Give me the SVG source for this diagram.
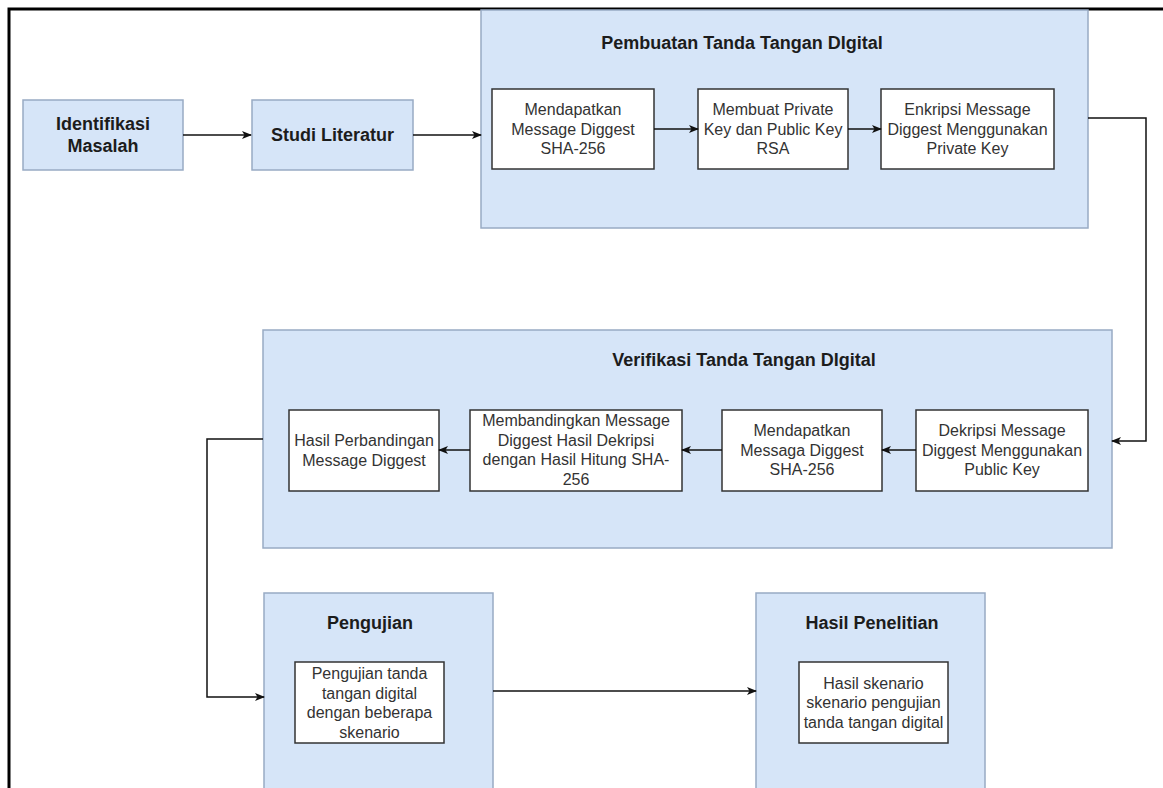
<svg xmlns="http://www.w3.org/2000/svg" width="1163" height="788" viewBox="0 0 1163 788">
<defs>
<marker id="arr" viewBox="0 0 10 8" refX="9" refY="4" markerWidth="10" markerHeight="8" markerUnits="userSpaceOnUse" orient="auto">
<path d="M0,0 L10,4 L0,8 L2.5,4 z" fill="#111"/>
</marker>
<style>
.frame{stroke:#000;stroke-width:3;fill:none}
.blue{fill:#d6e5f8;stroke:#98aac4;stroke-width:1.5}
.white{fill:#fff;stroke:#333;stroke-width:1.5}
.bold{font-family:"Liberation Sans",Arial,sans-serif;font-weight:bold;font-size:18px;fill:#1c1c1c;text-anchor:middle}
.reg{font-family:"Liberation Sans",Arial,sans-serif;font-size:16px;fill:#333;text-anchor:middle}
.conn{fill:none;stroke:#111;stroke-width:1.5;marker-end:url(#arr)}
</style>
</defs>
<rect width="1163" height="788" fill="#fff"/>
<path class="frame" d="M9,788 L9,9 L1163,9"/>

<g id="identifikasi">
<rect class="blue" x="23" y="100" width="160" height="70"/>
<text class="bold" x="103" y="130">Identifikasi</text>
<text class="bold" x="103" y="152">Masalah</text>
</g>
<g id="studi">
<rect class="blue" x="252" y="100" width="161" height="70"/>
<text class="bold" x="332.5" y="141">Studi Literatur</text>
</g>

<g id="pembuatan">
<rect class="blue" x="481" y="10" width="607" height="218"/>
<text class="bold" x="742" y="49">Pembuatan Tanda Tangan DIgital</text>
</g>
<g id="p1">
<rect class="white" x="492" y="89" width="162" height="80"/>
<text class="reg" x="573" y="115">Mendapatkan</text>
<text class="reg" x="573" y="134.5">Message Diggest</text>
<text class="reg" x="573" y="154">SHA-256</text>
</g>
<g id="p2">
<rect class="white" x="698" y="89" width="150" height="80"/>
<text class="reg" x="773" y="115">Membuat Private</text>
<text class="reg" x="773" y="134.5">Key dan Public Key</text>
<text class="reg" x="773" y="154">RSA</text>
</g>
<g id="p3">
<rect class="white" x="881" y="89" width="173" height="80"/>
<text class="reg" x="967.5" y="115">Enkripsi Message</text>
<text class="reg" x="967.5" y="134.5">Diggest Menggunakan</text>
<text class="reg" x="967.5" y="154">Private Key</text>
</g>

<g id="verifikasi">
<rect class="blue" x="263" y="330" width="849" height="218"/>
<text class="bold" x="744" y="366">Verifikasi Tanda Tangan DIgital</text>
</g>
<g id="v1">
<rect class="white" x="916" y="410" width="172" height="81"/>
<text class="reg" x="1002" y="436">Dekripsi Message</text>
<text class="reg" x="1002" y="455.5">Diggest Menggunakan</text>
<text class="reg" x="1002" y="475">Public Key</text>
</g>
<g id="v2">
<rect class="white" x="722" y="410" width="160" height="81"/>
<text class="reg" x="802" y="436">Mendapatkan</text>
<text class="reg" x="802" y="455.5">Messaga Diggest</text>
<text class="reg" x="802" y="475">SHA-256</text>
</g>
<g id="v3">
<rect class="white" x="470" y="410" width="212" height="81"/>
<text class="reg" x="576" y="426">Membandingkan Message</text>
<text class="reg" x="576" y="445.5">Diggest Hasil Dekripsi</text>
<text class="reg" x="576" y="465">dengan Hasil Hitung SHA-</text>
<text class="reg" x="576" y="484.5">256</text>
</g>
<g id="v4">
<rect class="white" x="289" y="410" width="150" height="81"/>
<text class="reg" x="364" y="446">Hasil Perbandingan</text>
<text class="reg" x="364" y="465.5">Message Diggest</text>
</g>

<g id="pengujian">
<rect class="blue" x="264" y="593" width="229" height="200"/>
<text class="bold" x="370" y="629">Pengujian</text>
</g>
<g id="pg1">
<rect class="white" x="295" y="662" width="149" height="81"/>
<text class="reg" x="369.5" y="679">Pengujian tanda</text>
<text class="reg" x="369.5" y="698.5">tangan digital</text>
<text class="reg" x="369.5" y="718">dengan beberapa</text>
<text class="reg" x="369.5" y="737.5">skenario</text>
</g>

<g id="hasil">
<rect class="blue" x="756" y="593" width="229" height="200"/>
<text class="bold" x="872" y="629">Hasil Penelitian</text>
</g>
<g id="h1">
<rect class="white" x="799" y="662" width="149" height="81"/>
<text class="reg" x="873.5" y="688.5">Hasil skenario</text>
<text class="reg" x="873.5" y="708">skenario pengujian</text>
<text class="reg" x="873.5" y="727.5">tanda tangan digital</text>
</g>

<g id="connectors">
<path class="conn" d="M183,135 L251,135"/>
<path class="conn" d="M413,135 L481,135"/>
<path class="conn" d="M654,129 L698,129"/>
<path class="conn" d="M848,129 L881,129"/>
<path class="conn" d="M1088,118 L1146,118 L1146,441 L1112,441"/>
<path class="conn" d="M916,450 L882,450"/>
<path class="conn" d="M722,450 L682,450"/>
<path class="conn" d="M470,450 L439,450"/>
<path class="conn" d="M263,439 L207,439 L207,697 L264,697"/>
<path class="conn" d="M493,691 L756,691"/>
</g>
</svg>
